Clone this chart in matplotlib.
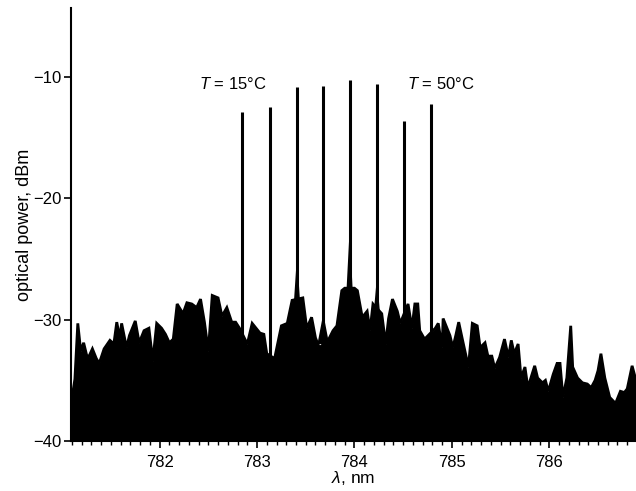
import numpy as np
import matplotlib.pyplot as plt

plt.rcParams['font.family'] = ['Liberation Sans', 'DejaVu Sans']
plt.rcParams['mathtext.fontset'] = 'custom'
plt.rcParams['mathtext.rm'] = 'Liberation Sans'
plt.rcParams['mathtext.it'] = 'Liberation Sans:italic'

# upper edge of the overlapped noise floor (nm, dBm)
noise_wl = [781.09, 781.13, 781.16, 781.19, 781.22, 781.25, 781.27, 781.31, 781.35, 781.38,
            781.43, 781.49, 781.53, 781.56, 781.59, 781.61, 781.66, 781.69, 781.75, 781.79,
            781.84, 781.89, 781.93, 781.97, 782.02, 782.06, 782.10, 782.14, 782.18, 782.24,
            782.28, 782.33, 782.38, 782.42, 782.46, 782.50, 782.54, 782.60, 782.64, 782.69,
            782.74, 782.78, 782.82, 782.90, 782.95, 782.99, 783.03, 783.07, 783.10, 783.18,
            783.25, 783.31, 783.36, 783.47, 783.51, 783.56, 783.60, 783.64, 783.73, 783.78,
            783.82, 783.87, 783.90, 784.00, 784.03, 784.08, 784.13, 784.16, 784.19, 784.28,
            784.32, 784.35, 784.39, 784.44, 784.47, 784.55, 784.59, 784.62, 784.65, 784.67,
            784.72, 784.83, 784.86, 784.90, 784.91, 784.95, 784.98, 785.01, 785.04, 785.07,
            785.11, 785.17, 785.21, 785.26, 785.29, 785.34, 785.37, 785.41, 785.44, 785.49,
            785.54, 785.58, 785.61, 785.64, 785.68, 785.71, 785.75, 785.78, 785.85, 785.88,
            785.93, 785.96, 785.99, 786.04, 786.08, 786.11, 786.14, 786.18, 786.22, 786.24,
            786.29, 786.34, 786.39, 786.43, 786.47, 786.50, 786.53, 786.57, 786.62, 786.68,
            786.73, 786.77, 786.80, 786.85, 786.89]
noise_db = [-37.0, -34.9, -30.3, -32.6, -31.9, -32.9, -33.1, -32.4, -33.2, -33.6,
            -32.4, -31.7, -32.0, -30.2, -31.5, -30.3, -32.3, -31.3, -30.1, -31.9,
            -30.9, -30.7, -33.4, -30.3, -30.7, -31.2, -31.9, -31.6, -28.7, -29.5,
            -28.6, -28.7, -29.0, -28.3, -30.2, -32.6, -28.0, -28.2, -29.7, -29.0,
            -30.2, -30.2, -30.7, -32.0, -30.3, -30.7, -31.1, -31.2, -32.8, -33.2,
            -30.5, -30.3, -28.4, -28.2, -30.7, -29.8, -31.5, -32.3, -31.7, -30.9,
            -30.5, -27.6, -27.4, -27.4, -27.6, -29.8, -29.3, -30.9, -28.7, -29.5,
            -32.0, -29.9, -28.3, -29.3, -30.3, -28.7, -30.7, -28.7, -28.7, -30.9,
            -31.6, -30.7, -30.3, -32.3, -29.9, -30.7, -31.3, -32.3, -31.3, -30.2,
            -31.7, -33.9, -30.3, -30.5, -32.3, -31.9, -33.0, -33.0, -34.0, -33.1,
            -31.6, -33.1, -31.7, -32.8, -32.0, -34.8, -33.9, -35.6, -33.8, -34.8,
            -35.2, -35.0, -35.9, -34.5, -33.6, -33.6, -36.4, -34.8, -30.5, -33.9,
            -34.8, -35.2, -35.3, -35.6, -35.0, -34.2, -32.8, -34.8, -36.4, -36.9,
            -35.9, -36.0, -35.7, -33.8, -35.0]

# laser lines, T = 15 ... 50 C
peak_wl = [782.85, 783.13, 783.41, 783.68, 783.95, 784.23, 784.51, 784.79]
peak_db = [-12.9, -12.5, -10.8, -10.7, -10.2, -10.6, -13.6, -12.2]
# top of the broad foot under some of the lines (None = no foot)
hump_db = [None, None, -24.7, -29.5, -22.6, -26.5, None, None]

fig = plt.figure(figsize=(6.36, 4.91), dpi=100)
ax = fig.add_axes([0.1116, 0.1018, 0.8884, 0.8819])

ax.fill_between(noise_wl, -45, noise_db, color='black', lw=0)
ax.plot(noise_wl, noise_db, color='black', lw=2, solid_joinstyle='miter')

for c, top, hump in zip(peak_wl, peak_db, hump_db):
    if hump is not None:
        ax.fill([c - 0.06, c, c + 0.06], [-32, hump, -32], color='black', lw=0)
    ax.plot([c, c], [-40, top], color='black', lw=2.2, solid_capstyle='butt')

ax.text(782.85 - 0.1, -10.6, r'$T$ = 15°C', fontsize=12, ha='center', va='center')
ax.text(784.79 + 0.1, -10.6, r'$T$ = 50°C', fontsize=12, ha='center', va='center')

ax.set_xlim(781.09, 786.89)
ax.set_ylim(-40, -4.3)
ax.set_xticks([782, 783, 784, 785, 786])
ax.set_xticks(np.arange(781.1, 786.9, 0.1), minor=True)
ax.set_yticks([-10, -20, -30, -40])
ax.set_yticklabels(['\u221210', '\u221220', '\u221230', '\u221240'])
ax.tick_params(which='major', direction='out', length=5, width=1.2, labelsize=12, pad=2)
ax.tick_params(which='minor', direction='out', length=3, width=1.0)
ax.tick_params(axis='x', which='major', pad=5)
for s in ['top', 'right']:
    ax.spines[s].set_visible(False)
for s in ['left', 'bottom']:
    ax.spines[s].set_linewidth(1.5)

ax.set_xlabel(r'$\lambda$, nm', fontsize=12.5, labelpad=-1)
ax.set_ylabel('optical power, dBm', fontsize=13, labelpad=0)

fig.savefig('out.png', dpi=100)
